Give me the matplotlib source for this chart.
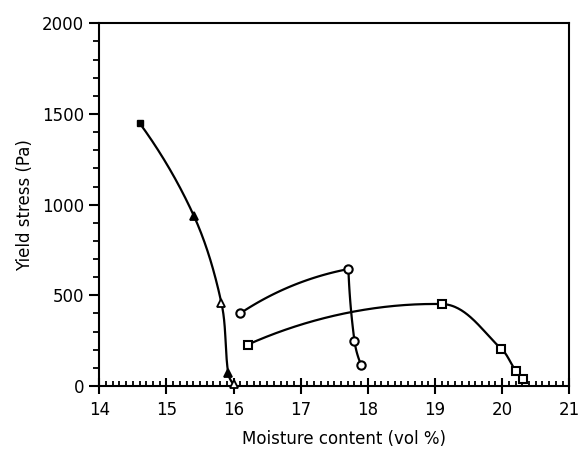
import numpy as np
import matplotlib
matplotlib.use("Agg")
import matplotlib.pyplot as plt
from matplotlib.ticker import MultipleLocator

# data
tri_x = [14.6, 15.41, 15.82, 15.92, 16.0]
tri_y = [1450, 937, 456, 70, 10]
tri_fill = ['k', 'k', 'w', 'k', 'w']

circ_x = [16.10, 17.71, 17.80, 17.90]
circ_y = [401, 645, 250, 116]
circ_break = 1  # sharp corner at the peak

sq_x = [16.21, 19.10, 19.99, 20.20, 20.31]
sq_y = [228, 452, 204, 83, 37]

x_ticks = [14, 15, 16, 17, 18, 19, 20, 21]
y_ticks = [0, 500, 1000, 1500, 2000]


def unit(v):
    return v / np.linalg.norm(v)


def hermite(P, n=60):
    # smooth curve through points, tangents scaled by chord length
    P = np.asarray(P, float)
    k = len(P)
    if k == 2:
        return bow(P)
    d = [None] * k
    for i in range(1, k - 1):
        d[i] = unit(P[i + 1] - P[i - 1])
    d[0] = unit(2 * unit(P[1] - P[0]) - d[1])
    d[-1] = unit(2 * unit(P[-1] - P[-2]) - d[-2])
    t = np.linspace(0, 1, n)[:, None]
    h00 = 2 * t**3 - 3 * t**2 + 1
    h10 = t**3 - 2 * t**2 + t
    h01 = -2 * t**3 + 3 * t**2
    h11 = t**3 - t**2
    out = []
    for i in range(k - 1):
        L = np.linalg.norm(P[i + 1] - P[i])
        out.append(h00 * P[i] + h10 * L * d[i] + h01 * P[i + 1] + h11 * L * d[i + 1])
    return np.vstack(out)


def bow(P, bend=0.1, n=60):
    # quadratic bezier between two points, bulging upward
    p0, p2 = np.asarray(P, float)
    dd = p2 - p0
    perp = np.array([-dd[1], dd[0]])
    p1 = (p0 + p2) / 2 + bend * perp
    t = np.linspace(0, 1, n)[:, None]
    return (1 - t) ** 2 * p0 + 2 * (1 - t) * t * p1 + t ** 2 * p2


def smooth(ax, xs, ys, breaks=(), **kw):
    pts = ax.transData.transform(np.column_stack([xs, ys]))
    cuts = [0] + list(breaks) + [len(xs) - 1]
    for a, b in zip(cuts[:-1], cuts[1:]):
        curve = ax.transData.inverted().transform(hermite(pts[a:b + 1]))
        ax.plot(curve[:, 0], curve[:, 1], **kw)


fig = plt.figure(figsize=(5.86, 4.55), dpi=100)
ax = fig.add_axes([99.3 / 586, 1 - 386 / 455, 470 / 586, 362.7 / 455])
ax.set_xlim(14, 21)
ax.set_ylim(0, 2000)

line_kw = dict(color='k', lw=1.6, zorder=2)
smooth(ax, tri_x, tri_y, **line_kw)
smooth(ax, circ_x, circ_y, breaks=[circ_break], **line_kw)
smooth(ax, sq_x, sq_y, **line_kw)

# markers
ax.plot(tri_x[:1], tri_y[:1], 's', ms=5, color='k', zorder=3)
for x, y, f in zip(tri_x[1:], tri_y[1:], tri_fill[1:]):
    ax.plot(x, y, '^', ms=6, mfc=f, mec='k', mew=1.3, zorder=3, clip_on=False)
ax.plot(circ_x, circ_y, 'o', ms=6, mfc='w', mec='k', mew=1.5, ls='none', zorder=3)
ax.plot(sq_x, sq_y, 's', ms=6, mfc='w', mec='k', mew=1.5, ls='none', zorder=3,
        clip_on=False)

ax.set_xticks(x_ticks)
ax.set_yticks(y_ticks)
ax.xaxis.set_minor_locator(MultipleLocator(0.1))
ax.yaxis.set_minor_locator(MultipleLocator(100))
ax.tick_params(axis='x', which='major', direction='inout', length=11, width=1.5,
               labelsize=12, pad=5)
ax.tick_params(axis='x', which='minor', direction='in', length=3.5, width=1.3)
ax.tick_params(axis='y', which='major', direction='out', length=7, width=1.5,
               labelsize=12, pad=4)
ax.tick_params(axis='y', which='minor', direction='out', length=4, width=1.3)
for s in ax.spines.values():
    s.set_linewidth(1.5)

ax.set_xlabel('Moisture content (vol %)', fontsize=12, labelpad=4)
ax.xaxis.set_label_coords(0.52, -0.12)
ax.set_ylabel('Yield stress (Pa)', fontsize=12, labelpad=6)

fig.savefig('out.png', dpi=100)
